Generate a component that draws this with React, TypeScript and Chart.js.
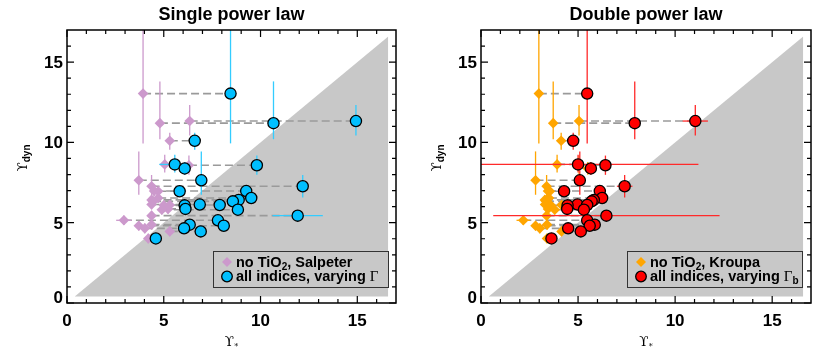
import React, { useEffect, useRef } from "react";
import { Chart, registerables } from "chart.js";

Chart.register(...registerables);

// ---------- axes ----------
const X_MIN = 0;
const X_MAX = 17;
const Y_MIN = 0;
const Y_MAX = 17;
const majorTicks = [0, 5, 10, 15];
const majorTickLabels = ["0", "5", "10", "15"];
const minorTicks = [1, 2, 3, 4, 6, 7, 8, 9, 11, 12, 13, 14, 16];

// shaded region below the one-to-one line
const shadeX = [0.4, 16.6];
const shadeY = [0.4, 16.6];
const shadeFloor = 0.4;

// ---------- data (one entry per galaxy) ----------
const yDyn = [13.04, 11.2, 11.33, 10.1, 8.63, 8.38, 8.58, 7.64, 7.27, 6.96, 6.97, 6.54, 6.42, 6.33, 6.13, 6.1, 6.08, 5.86, 5.81, 5.44, 5.15, 4.88, 4.81, 4.65, 4.46, 4.02];
const yDynErrLo = [3.1, 1.0, 0.9, 0.55, 0.5, 0.4, 0.6, 0.9, 0.7, 0.3, 0.3, 0.3, 0.3, 0.3, 0.3, 0.3, 0.3, 0.3, 0.3, 0.3, 0.3, 0.3, 0.3, 0.3, 0.3, 0.3];
const yDynErrHi = [4.5, 2.6, 1.0, 0.5, 0.6, 0.4, 0.6, 1.8, 0.7, 0.3, 0.3, 0.3, 0.3, 0.3, 0.3, 0.3, 0.3, 0.3, 0.3, 0.3, 0.3, 0.3, 0.3, 0.3, 0.3, 0.3];

// Single power law
const xSalpeter = [3.93, 4.8, 6.34, 5.31, 5.05, 6.1, 6.3, 3.71, 4.37, 4.71, 4.5, 4.71, 4.37, 4.45, 4.37, 5.31, 5.0, 5.22, 4.9, 4.37, 2.94, 4.37, 3.71, 4.02, 5.31, 4.2];
const xSalpeterErr = [0, 0, 0, 0, 0, 0, 0, 0, 0, 0, 0, 0, 0, 0, 0, 0, 0, 0, 0, 0, 0.4, 0, 0, 0, 0, 0];
const xVaryingGamma = [8.45, 10.67, 14.93, 6.6, 5.57, 6.08, 9.81, 6.94, 12.18, 5.82, 9.26, 9.52, 8.87, 8.57, 6.86, 7.89, 6.08, 6.12, 8.83, 11.92, 7.8, 6.34, 8.1, 6.05, 6.91, 4.59];
const xVaryingGammaErr = [0, 0, 0, 0, 0.8, 0, 0, 0, 0, 0, 0, 0, 0, 0, 0, 0, 0, 0, 0, 1.3, 0, 0, 0, 0, 0, 0];

// Double power law
const xKroupa = [2.98, 3.72, 5.05, 4.13, 3.92, 5.5, 5.05, 2.81, 3.38, 3.55, 3.45, 3.5, 3.29, 3.35, 3.3, 4.15, 3.6, 3.45, 3.8, 3.38, 2.18, 3.4, 2.81, 3.03, 4.15, 3.4];
const xKroupaErr = [0, 0, 0, 0, 0, 0, 0, 0, 0, 0, 0, 0, 0, 0, 0, 0, 0, 0, 0, 0, 0.35, 0, 0, 0, 0, 0];
const xVaryingGammaB = [5.47, 7.92, 11.04, 4.75, 5.0, 5.66, 6.41, 5.09, 7.4, 4.28, 6.12, 6.24, 5.81, 5.7, 4.97, 5.47, 4.46, 4.44, 5.3, 6.46, 5.47, 5.86, 5.6, 4.49, 5.14, 3.63];
const xVaryingGammaBErr = [0, 0, 0.65, 0, 6.2, 0, 0, 0, 0.4, 0, 0, 0, 0, 0, 0, 0, 0, 0, 0, 5.83, 0, 0, 0, 0, 0, 0];

// ---------- styling ----------
const SANS = "'Liberation Sans', Arial, Helvetica, sans-serif";
const SERIF = "'DejaVu Serif', 'Liberation Serif', serif";
const SHADE = "#C8C8C8";
const DASH = "#9A9A9A";

type PanelSpec = {
  title: string;
  padLeft: number;
  diamondX: number[];
  diamondXErr: number[];
  diamondColor: string;
  diamondErrColor: string;
  circleX: number[];
  circleXErr: number[];
  circleColor: string;
  circleErrColor: string;
  legendLine1: string;
  legendSub: string;
};

const panels: PanelSpec[] = [
  {
    title: "Single power law",
    padLeft: 67,
    diamondX: xSalpeter,
    diamondXErr: xSalpeterErr,
    diamondColor: "#CC99CC",
    diamondErrColor: "#CC99CC",
    circleX: xVaryingGamma,
    circleXErr: xVaryingGammaErr,
    circleColor: "#00BFFF",
    circleErrColor: "#33CCFF",
    legendLine1: ", Salpeter",
    legendSub: "",
  },
  {
    title: "Double power law",
    padLeft: 66,
    diamondX: xKroupa,
    diamondXErr: xKroupaErr,
    diamondColor: "#FFA500",
    diamondErrColor: "#FFA500",
    circleX: xVaryingGammaB,
    circleXErr: xVaryingGammaBErr,
    circleColor: "#FF0000",
    circleErrColor: "#FF2A2A",
    legendLine1: ", Kroupa",
    legendSub: "b",
  },
];

type Run = { t: string; font: string; dy?: number };

function runsWidth(ctx: CanvasRenderingContext2D, runs: Run[]) {
  let w = 0;
  for (const r of runs) {
    ctx.font = r.font;
    w += ctx.measureText(r.t).width;
  }
  return w;
}

function drawRuns(ctx: CanvasRenderingContext2D, x: number, y: number, runs: Run[]) {
  let cx = x;
  for (const r of runs) {
    ctx.font = r.font;
    ctx.fillText(r.t, cx, y + (r.dy || 0));
    cx += ctx.measureText(r.t).width;
  }
  return cx;
}

function makeErrorPlugin() {
  return {
    id: "errorBars",
    beforeDatasetDraw(chart: any, args: any) {
      const ds: any = chart.data.datasets[args.index];
      if (!ds.errX) return;
      const ctx: CanvasRenderingContext2D = chart.ctx;
      const xs = chart.scales.x;
      const ys = chart.scales.y;
      const a = chart.chartArea;
      ctx.save();
      ctx.beginPath();
      ctx.rect(a.left, a.top, a.right - a.left, a.bottom - a.top);
      ctx.clip();
      ctx.strokeStyle = ds.errColor;
      ctx.lineWidth = 1.3;
      ds.data.forEach((p: any, i: number) => {
        const px = xs.getPixelForValue(p.x);
        const py = ys.getPixelForValue(p.y);
        const lo = ys.getPixelForValue(p.y - ds.errLo[i]);
        const hi = ys.getPixelForValue(p.y + ds.errHi[i]);
        ctx.beginPath();
        ctx.moveTo(px, lo);
        ctx.lineTo(px, hi);
        ctx.stroke();
        if (ds.errX[i] > 0) {
          const l = xs.getPixelForValue(p.x - ds.errX[i]);
          const r = xs.getPixelForValue(p.x + ds.errX[i]);
          ctx.beginPath();
          ctx.moveTo(l, py);
          ctx.lineTo(r, py);
          ctx.stroke();
        }
      });
      ctx.restore();
    },
  };
}

function makeDecorPlugin(spec: PanelSpec) {
  return {
    id: "decor",
    afterDraw(chart: any) {
      const ctx: CanvasRenderingContext2D = chart.ctx;
      const { left, right, top, bottom } = chart.chartArea;
      const xs = chart.scales.x;
      const ys = chart.scales.y;
      ctx.save();
      // frame
      ctx.strokeStyle = "#000";
      ctx.lineWidth = 1.5;
      ctx.strokeRect(left, top, right - left, bottom - top);
      // ticks
      const tick = (v: number, len: number) => {
        const x = xs.getPixelForValue(v);
        const y = ys.getPixelForValue(v);
        ctx.beginPath();
        ctx.moveTo(x, bottom);
        ctx.lineTo(x, bottom - len);
        ctx.moveTo(x, top);
        ctx.lineTo(x, top + len);
        ctx.moveTo(left, y);
        ctx.lineTo(left + len, y);
        ctx.moveTo(right, y);
        ctx.lineTo(right - len, y);
        ctx.stroke();
      };
      ctx.lineWidth = 1.2;
      majorTicks.forEach((v) => tick(v, 7));
      minorTicks.forEach((v) => tick(v, 4));
      // tick labels
      ctx.fillStyle = "#000";
      ctx.font = `bold 17px ${SANS}`;
      ctx.textBaseline = "alphabetic";
      majorTicks.forEach((v, i) => {
        const x = xs.getPixelForValue(v);
        ctx.textAlign = "center";
        ctx.fillText(majorTickLabels[i], x, bottom + 23);
        let y = ys.getPixelForValue(v);
        y = Math.min(y, bottom - 6);
        ctx.textAlign = "right";
        ctx.fillText(majorTickLabels[i], left - 4, y + 6);
      });
      ctx.textAlign = "left";
      // title
      ctx.font = `bold 18px ${SANS}`;
      ctx.textAlign = "center";
      ctx.fillText(spec.title, (left + right) / 2, 20);
      ctx.textAlign = "left";
      // x axis title
      const xRuns: Run[] = [
        { t: "\u03D2", font: `13.5px ${SERIF}` },
        { t: "*", font: `8px ${SERIF}`, dy: 3 },
      ];
      const xw = runsWidth(ctx, xRuns);
      drawRuns(ctx, (left + right) / 2 - xw / 2, 346, xRuns);
      // y axis title
      const yRuns: Run[] = [
        { t: "\u03D2", font: `13.5px ${SERIF}` },
        { t: "dyn", font: `bold 10px ${SANS}`, dy: 3 },
      ];
      const yw = runsWidth(ctx, yRuns);
      ctx.save();
      ctx.translate(left - 40, 158);
      ctx.rotate(-Math.PI / 2);
      drawRuns(ctx, -yw / 2, 0, yRuns);
      ctx.restore();
      // legend
      const bx = left + 146;
      const by = 251;
      const bw = 175;
      const bh = 36;
      ctx.fillStyle = SHADE;
      ctx.fillRect(bx, by, bw, bh);
      ctx.strokeStyle = "#333";
      ctx.lineWidth = 1;
      ctx.strokeRect(bx + 0.5, by + 0.5, bw, bh);
      // markers
      const mx = bx + 14;
      ctx.fillStyle = spec.diamondColor;
      ctx.beginPath();
      ctx.moveTo(mx - 5, by + 11);
      ctx.lineTo(mx, by + 6);
      ctx.lineTo(mx + 5, by + 11);
      ctx.lineTo(mx, by + 16);
      ctx.closePath();
      ctx.fill();
      ctx.fillStyle = spec.circleColor;
      ctx.strokeStyle = "#000";
      ctx.lineWidth = 1.3;
      ctx.beginPath();
      ctx.arc(mx, by + 25.5, 5.3, 0, Math.PI * 2);
      ctx.fill();
      ctx.stroke();
      ctx.fillStyle = "#000";
      const B = `bold 14.5px ${SANS}`;
      drawRuns(ctx, bx + 23, by + 15.5, [
        { t: "no TiO", font: B },
        { t: "2", font: `bold 10px ${SANS}`, dy: 3 },
        { t: spec.legendLine1, font: B },
      ]);
      const line2: Run[] = [
        { t: "all indices, varying ", font: B },
        { t: "\u0393", font: `15px 'Liberation Serif', serif` },
      ];
      if (spec.legendSub) line2.push({ t: spec.legendSub, font: `bold 10px ${SANS}`, dy: 3 });
      drawRuns(ctx, bx + 23, by + 30, line2);
      ctx.restore();
    },
  };
}

function buildConfig(spec: PanelSpec): any {
  const datasets: any[] = [];
  datasets.push({
    type: "line",
    data: shadeX.map((x, i) => ({ x, y: shadeY[i] })),
    fill: { value: shadeFloor },
    backgroundColor: SHADE,
    borderWidth: 0,
    pointRadius: 0,
    order: 3,
  });
  yDyn.forEach((y, i) => {
    datasets.push({
      type: "line",
      data: [
        { x: spec.diamondX[i], y },
        { x: spec.circleX[i], y },
      ],
      borderColor: DASH,
      borderWidth: 1.6,
      borderDash: [8, 4],
      pointRadius: 0,
      fill: false,
      order: 2,
    });
  });
  datasets.push({
    type: "line",
    showLine: false,
    data: yDyn.map((y, i) => ({ x: spec.diamondX[i], y })),
    pointStyle: "rectRot",
    pointRadius: 5.3,
    pointBackgroundColor: spec.diamondColor,
    pointBorderWidth: 0,
    errX: spec.diamondXErr,
    errLo: yDynErrLo,
    errHi: yDynErrHi,
    errColor: spec.diamondErrColor,
    order: 1,
  });
  datasets.push({
    type: "line",
    showLine: false,
    data: yDyn.map((y, i) => ({ x: spec.circleX[i], y })),
    pointStyle: "circle",
    pointRadius: 5.6,
    pointBackgroundColor: spec.circleColor,
    pointBorderColor: "#000",
    pointBorderWidth: 1.3,
    errX: spec.circleXErr,
    errLo: yDynErrLo,
    errHi: yDynErrHi,
    errColor: spec.circleErrColor,
    order: 0,
  });
  return {
    type: "line",
    data: { datasets },
    options: {
      animation: false,
      responsive: false,
      devicePixelRatio: 1,
      events: [],
      layout: { padding: { left: spec.padLeft, right: 19, top: 30, bottom: 53 } },
      scales: {
        x: { type: "linear", min: X_MIN, max: X_MAX, display: false },
        y: { type: "linear", min: Y_MIN, max: Y_MAX, display: false },
      },
      plugins: { legend: { display: false }, tooltip: { enabled: false } },
    },
    plugins: [makeErrorPlugin(), makeDecorPlugin(spec)],
  };
}

function Panel({ spec, left }: { spec: PanelSpec; left: number }) {
  const ref = useRef<HTMLCanvasElement>(null);
  useEffect(() => {
    const chart = new Chart(ref.current as HTMLCanvasElement, buildConfig(spec));
    return () => chart.destroy();
  }, [spec]);
  return (
    <canvas
      ref={ref}
      width={415}
      height={356}
      style={{ position: "absolute", left, top: 0, width: 415, height: 356 }}
    />
  );
}

export default function App() {
  return (
    <div style={{ position: "fixed", left: 0, top: 0, width: 830, height: 356, background: "#fff" }}>
      <Panel spec={panels[0]} left={0} />
      <Panel spec={panels[1]} left={415} />
    </div>
  );
}
